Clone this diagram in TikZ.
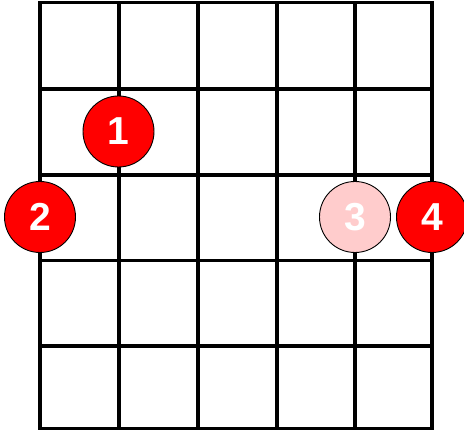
\documentclass[tikz,border=0pt]{standalone}
\usepackage{fontspec}
\setmainfont{Liberation Sans}
\usepackage{xcolor}
\definecolor{dotred}{RGB}{255,0,0}
\definecolor{dotpink}{RGB}{255,204,204}
\tikzset{
  fret/.style={line width=3.6pt},
  fingerdot/.style={circle,draw=black,line width=0.9pt,fill=dotred,minimum size=71pt,inner sep=0pt,text=white,font=\fontsize{39}{39}\selectfont\bfseries},
  ghostdot/.style={fingerdot,fill=dotpink}
}
\begin{document}
\begin{tikzpicture}[x=1pt,y=-1pt]
		\useasboundingbox (0,0) rectangle (464,435);
		% strings
		\foreach \sx in {40,119,198,277,355,432}
			\draw[fret] (\sx,2.5) -- (\sx,428.5);
		% frets
		\foreach \fy in {2.5,89,175,260.5,346,428.5}
			\draw[fret] (38.2,\fy) -- (433.8,\fy);
		% fingers
		\node[fingerdot] (f1) at (118.5,131.5) {1};
		\node[fingerdot] (f2) at (40,217) {2};
		\node[ghostdot] (f3) at (355,217) {3};
		\node[fingerdot] (f4) at (432,217) {4};
	\end{tikzpicture}
\end{document}
